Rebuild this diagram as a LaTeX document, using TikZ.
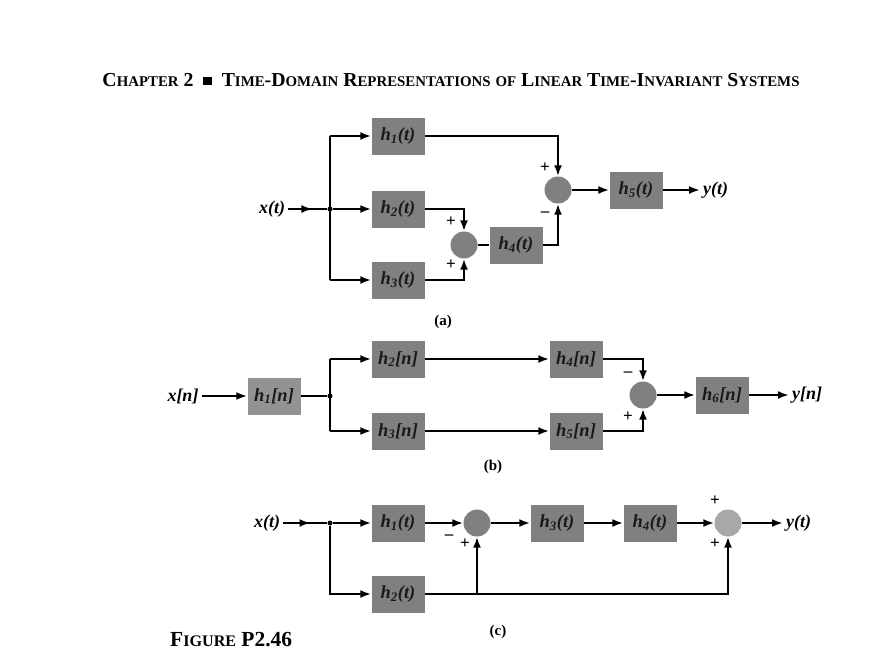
\documentclass[tikz,border=0pt]{standalone}
\usepackage{fontspec}
\setmainfont{Liberation Serif}
\usepackage{graphicx}
\usetikzlibrary{arrows.meta,decorations.markings,calc}
\definecolor{boxgray}{RGB}{128,128,128}
\definecolor{lightgray2}{RGB}{168,168,168}
\newcommand{\smc}[1]{{\fontsize{10.5}{12}\selectfont #1}}
\newcommand{\sbs}[1]{\textsubscript{#1}}
\begin{document}
\begin{tikzpicture}[x=1pt,y=-1pt,
  blk/.style={fill=boxgray, minimum width=53pt, minimum height=37pt, inner sep=0pt,
    font=\fontsize{18.5}{20}\selectfont\bfseries\itshape, text=black!90},
  blkl/.style={blk, fill=boxgray!85!white},
  sumc/.style={circle, fill=boxgray, minimum size=27pt, inner sep=0pt},
  lbl/.style={inner sep=3pt, font=\fontsize{18}{20}\selectfont\bfseries\itshape},
  sgn/.style={inner sep=0pt, font=\fontsize{17}{18}\selectfont\bfseries},
  captxt/.style={inner sep=0pt, font=\fontsize{15}{17}\selectfont\bfseries},
  wire/.style={line width=2.6pt},
  sig/.style={wire, -{Latex[length=11pt,width=8pt]}},
  midarrow/.style={wire, postaction={decorate, decoration={markings,
     mark=at position 0.62 with {\arrow{Latex[length=11pt,width=8pt]}}}}},
  jdot/.style={circle, fill=black, inner sep=0pt, minimum size=5pt}
]
\useasboundingbox (0,0) rectangle (893,661);

% header
\node[inner sep=0pt] (hdr) at (451,80) {\resizebox{697pt}{!}{\fontsize{14}{16}\selectfont\bfseries
  C\smc{HAPTER} 2\ \ \raisebox{1pt}{\rule{6pt}{6pt}}\ \ T\smc{IME}-D\smc{OMAIN} R\smc{EPRESENTATIONS} \smc{OF} L\smc{INEAR} T\smc{IME}-I\smc{NVARIANT} S\smc{YSTEMS}}};

% ---------- (a) ----------
\node[lbl] (xa) at (272,209) {x(t)};
\node[jdot] (ja) at (330,209) {};
\node[blk] (a1) at (398,136) {h\sbs{1}(t)};
\node[blk] (a2) at (398,209) {h\sbs{2}(t)};
\node[blk] (a3) at (398,280) {h\sbs{3}(t)};
\node[sumc] (as2) at (464,245) {};
\node[blk] (a4) at (516,245) {h\sbs{4}(t)};
\node[sumc] (as1) at (558,190) {};
\node[blk] (a5) at (636,190) {h\sbs{5}(t)};
\node[lbl, anchor=west] (ya) at (700,190) {y(t)};

\draw[midarrow] (xa) -- (ja);
\draw[wire] (ja |- a1) -- (ja |- a3);
\draw[sig] (ja |- a1) -- (a1);
\draw[sig] (ja) -- (a2);
\draw[sig] (ja |- a3) -- (a3);
\draw[sig] (a1) -| (as1);
\draw[sig] (a2) -| (as2);
\draw[sig] (a3) -| (as2);
\draw[wire] (as2) -- (a4);
\draw[sig] (a4) -| (as1);
\draw[sig] (as1) -- (a5);
\draw[sig] (a5) -- (ya);

\node[sgn] (pa1) at (545,168) {+};
\node[sgn] (ma1) at (545,214) {–};
\node[sgn] (pa2) at (451,222) {+};
\node[sgn] (pa3) at (451,265) {+};
\node[captxt] (capa) at (443,322) {(a)};

% ---------- (b) ----------
\node[lbl] (xb) at (183,396) {x[n]};
\node[blkl] (b1) at (274,396) {h\sbs{1}[n]};
\node[jdot] (jb) at (330,396) {};
\node[blk] (b2) at (398,359) {h\sbs{2}[n]};
\node[blk] (b3) at (398,431) {h\sbs{3}[n]};
\node[blk] (b4) at (576,359) {h\sbs{4}[n]};
\node[blk] (b5) at (576,431) {h\sbs{5}[n]};
\node[sumc] (bs) at (643,395) {};
\node[blk] (b6) at (722,395) {h\sbs{6}[n]};
\node[lbl, anchor=west] (yb) at (789,395) {y[n]};

\draw[sig] (xb) -- (b1);
\draw[wire] (b1) -- (jb);
\draw[wire] (jb |- b2) -- (jb |- b3);
\draw[sig] (jb |- b2) -- (b2);
\draw[sig] (jb |- b3) -- (b3);
\draw[sig] (b2) -- (b4);
\draw[sig] (b3) -- (b5);
\draw[sig] (b4) -| (bs);
\draw[sig] (b5) -| (bs);
\draw[sig] (bs) -- (b6);
\draw[sig] (b6) -- (yb);

\node[sgn] (mb) at (628,374) {–};
\node[sgn] (pb) at (628,417) {+};
\node[captxt] (capb) at (493,467) {(b)};

% ---------- (c) ----------
\node[lbl] (xc) at (267,523) {x(t)};
\node[jdot] (jc) at (330,523) {};
\node[blk] (c1) at (398,523) {h\sbs{1}(t)};
\node[blk] (c2) at (398,594) {h\sbs{2}(t)};
\node[sumc] (cs1) at (477,523) {};
\node[blk] (c3) at (557,523) {h\sbs{3}(t)};
\node[blk] (c4) at (650,523) {h\sbs{4}(t)};
\node[sumc, fill=lightgray2] (cs2) at (728,523) {};
\node[lbl, anchor=west] (yc) at (783,523) {y(t)};
\coordinate (tapc) at (477,595);

\draw[midarrow] (xc) -- (jc);
\draw[sig] (jc) -- (c1);
\draw[sig] (jc) |- (c2);
\draw[sig] (c1) -- (cs1);
\draw[sig] (c2) -| (cs2);
\draw[sig] (tapc) -- (cs1);
\draw[sig] (cs1) -- (c3);
\draw[sig] (c3) -- (c4);
\draw[sig] (c4) -- (cs2);
\draw[sig] (cs2) -- (yc);

\node[sgn] (mc1) at (449,537) {–};
\node[sgn] (pc1) at (465,544) {+};
\node[sgn] (pc2) at (715,501) {+};
\node[sgn] (pc3) at (715,544) {+};
\node[captxt] (capc) at (498,632) {(c)};

\node[inner sep=0pt, anchor=west] (fig) at (170,640) {\resizebox{122pt}{!}{\fontsize{14}{16}\selectfont\bfseries F\smc{IGURE} P2.46}};
\end{tikzpicture}
\end{document}
